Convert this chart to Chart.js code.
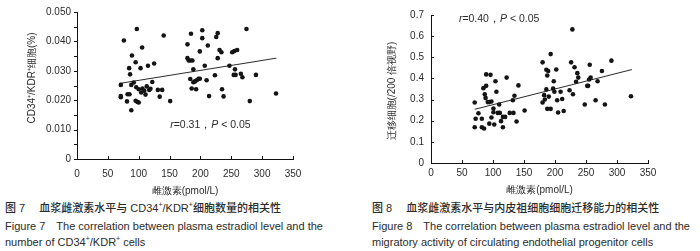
<!DOCTYPE html>
<html><head><meta charset="utf-8">
<script src="https://cdn.jsdelivr.net/npm/chart.js@4/dist/chart.umd.min.js"></script>
<style>
html,body{margin:0;padding:0;background:#fff}
body{width:700px;height:251px;overflow:hidden;position:relative;font-family:"Liberation Sans",Arial,sans-serif;color:#2b2b2b}
.c{position:absolute;top:0;width:350px;height:200px}
.cap{position:absolute;white-space:pre;font-size:11px;line-height:13px}
.zh{font-family:"Liberation Sans","Noto Sans CJK SC",sans-serif;font-size:11px;font-weight:500}
sup{font-size:7px;vertical-align:5px;line-height:0}
</style></head><body>
<div class="c" style="left:0"><canvas id="c1" width="350" height="200"></canvas></div>
<div class="c" style="left:350px"><canvas id="c2" width="350" height="200"></canvas></div>

<div class="cap zh" style="left:5px;top:202px">图 7　 血浆雌激素水平与 CD34<sup>+</sup>/KDR<sup>+</sup>细胞数量的相关性</div>
<div class="cap" style="left:5px;top:220px">Figure 7　The correlation between plasma estradiol level and the</div>
<div class="cap" style="left:5px;top:236px">number of CD34<sup>+</sup>/KDR<sup>+</sup> cells</div>

<div class="cap zh" style="left:372px;top:202px">图 8　 血浆雌激素水平与内皮祖细胞细胞迁移能力的相关性</div>
<div class="cap" style="left:372px;top:220px">Figure 8　The correlation between plasma estradiol level and the</div>
<div class="cap" style="left:372px;top:236px">migratory activity of circulating endothelial progenitor cells</div>

<script>
// ---------- data ----------
const xTickValues = [0, 50, 100, 150, 200, 250, 300, 350];
const fig7YTicks = [0, 0.005, 0.010, 0.015, 0.020, 0.025, 0.030, 0.035, 0.040, 0.045, 0.050];
const fig8YTicks = [0, 0.1, 0.2, 0.3, 0.4, 0.5, 0.6, 0.7];

const fig7Estradiol = [71,71,71,76,81,82,85,84.5,86,89,88,88,92,95,96,97,95,98,100,100,103,104,105.5,106,109,111,113,115,117,119,122,125,131,134,138,140.5,151,
  179,179,181,183.6,183.6,184.7,185.8,187,188.5,188.5,191,193,194,197,199,199,203,203,207,210,212,214,223.5,225.6,228,228,231,234,235,237.5,247,251.5,255,254,256,257,259.5,265.5,268,274.6,280,290,322.5];
const fig7Cells = [0.0252,0.0214,0.0210,0.0403,0.0196,0.0220,0.0220,0.0309,0.0288,0.0352,0.0166,0.0252,0.0260,0.0329,0.0244,0.0442,0.0198,0.0194,0.0192,0.0237,0.0309,0.0226,0.0379,0.0240,0.0232,0.0219,0.0247,0.0317,0.0235,0.0239,0.0262,0.0325,0.0235,0.0212,0.0235,0.0420,0.0197,
  0.0390,0.0343,0.0335,0.0335,0.0272,0.0426,0.0240,0.0335,0.0305,0.0261,0.0264,0.0237,0.0268,0.0273,0.0273,0.0366,0.0438,0.0411,0.0317,0.0268,0.0386,0.0214,0.0285,0.0415,0.0428,0.0343,0.0371,0.0363,0.0237,0.0213,0.0317,0.0363,0.0367,0.0286,0.0305,0.0286,0.0371,0.0290,0.0278,0.0442,0.0197,0.0286,0.0223];
const fig7TrendX = [69, 323];
const fig7TrendY = [0.0257, 0.0343];

const fig8Estradiol = [70.5,72,70.5,76.5,82,82,84.5,85.6,86.7,88,89,89,91.5,94,96,97.5,94,97.5,100.7,100.7,102,104,105.5,107.7,110,111,113,116,116,119.5,122,127,132,133,134.6,138,141,151,
  180,180,182.5,183.6,186,186,187.5,187.5,189,190,193,193,197,198,199,202,203.5,205,209,211.6,214,223.5,226,228,229,231.5,234,236,237.5,248,252,253.5,255,256,257.5,265.5,268.7,275.7,280.5,291,322.5];
const fig8Migrated = [0.286,0.209,0.169,0.235,0.209,0.169,0.354,0.163,0.325,0.308,0.419,0.365,0.288,0.288,0.417,0.291,0.186,0.215,0.240,0.258,0.182,0.387,0.337,0.237,0.277,0.237,0.198,0.169,0.218,0.218,0.404,0.237,0.297,0.237,0.318,0.196,0.367,0.248,
  0.476,0.286,0.321,0.300,0.441,0.348,0.414,0.256,0.435,0.314,0.515,0.256,0.352,0.387,0.337,0.442,0.297,0.239,0.337,0.303,0.246,0.344,0.476,0.632,0.325,0.453,0.384,0.425,0.404,0.277,0.365,0.365,0.395,0.465,0.404,0.297,0.387,0.435,0.277,0.484,0.316];
const fig8TrendX = [70.5, 324];
const fig8TrendY = [0.254, 0.442];

// ---------- helpers ----------
const TXT = '#2b2b2b';
const FONT = '"Liberation Sans", Arial, sans-serif';
const zip = (xs, ys) => xs.map((x, i) => ({x, y: ys[i]}));

const decor = {
  id: 'decor',
  afterDraw(chart, args, o) {
    const ctx = chart.ctx, xs = chart.scales.x, ys = chart.scales.y;
    ctx.save();
    ctx.strokeStyle = '#111'; ctx.lineWidth = 1;
    ctx.beginPath();
    o.xTicks.forEach(v => { const px = Math.round(xs.getPixelForValue(v)) + 0.5; ctx.moveTo(px, ys.bottom); ctx.lineTo(px, ys.bottom - 3); });
    o.yTicks.forEach(v => { const py = Math.round(ys.getPixelForValue(v)) + 0.5; const x0 = xs.left; ctx.moveTo(x0, py); ctx.lineTo(x0 + (o.yIn ? 3 : -3), py); });
    ctx.stroke();
    ctx.fillStyle = TXT;
    ctx.font = '10px ' + FONT;
    ctx.textAlign = 'center'; ctx.textBaseline = 'middle';
    ctx.translate(o.yTitleX, o.yTitleY);
    ctx.rotate(-Math.PI / 2);
    ctx.fillText(o.yTitle, 0, 0);
    ctx.restore();
    ctx.save();
    ctx.fillStyle = TXT; ctx.textBaseline = 'middle'; ctx.textAlign = 'left';
    let x = xs.getPixelForValue(o.noteAt[0]);
    const y = ys.getPixelForValue(o.noteAt[1]);
    o.note.forEach(([t, it]) => {
      ctx.font = (it ? 'italic ' : '') + '10.5px ' + FONT;
      ctx.fillText(t, x, y);
      x += ctx.measureText(t).width;
    });
    ctx.restore();
  }
};

function makeChart(id, xs, ys, tx, ty, yTicks, yMax, fmt, cfg) {
  return new Chart(document.getElementById(id), {
    data: {
      datasets: [
        { type: 'scatter', data: zip(xs, ys), backgroundColor: '#141414', borderWidth: 0, pointRadius: 2.3, pointHoverRadius: 2.3 },
        { type: 'line', data: zip(tx, ty), borderColor: '#2a2a2a', borderWidth: 1, pointRadius: 0, fill: false }
      ]
    },
    options: {
      responsive: false, animation: false, devicePixelRatio: 1,
      layout: { padding: cfg.pad },
      plugins: { legend: { display: false }, tooltip: { enabled: false }, decor: cfg.decor },
      scales: {
        x: {
          type: 'linear', min: 0, max: 350,
          afterBuildTicks: s => { s.ticks = xTickValues.map(v => ({value: v})); },
          afterFit: s => { s.height = cfg.xH; },
          grid: { display: false, drawTicks: false },
          border: { display: true, color: '#111', width: 1 },
          ticks: { padding: cfg.xPad, color: TXT, font: { family: FONT, size: 10 } },
          title: { display: true, text: '雌激素(pmol/L)', color: TXT, font: { family: FONT, size: 10 }, padding: { top: 0, bottom: cfg.xTitlePad } }
        },
        y: {
          type: 'linear', min: 0, max: yMax,
          afterBuildTicks: s => { s.ticks = yTicks.map(v => ({value: v})); },
          afterFit: s => { s.width = cfg.yW; },
          grid: { display: false, drawTicks: false },
          border: { display: true, color: '#111', width: 1 },
          ticks: { padding: cfg.yPad, color: TXT, font: { family: FONT, size: 10 }, callback: fmt }
        }
      }
    },
    plugins: [decor]
  });
}

makeChart('c1', fig7Estradiol, fig7Cells, fig7TrendX, fig7TrendY, fig7YTicks, 0.05,
  v => v === 0 ? '0' : v.toFixed(3),
  { pad: {left: 0, top: 12, right: 57, bottom: 0}, xH: 41, yW: 77, xPad: 9, yPad: 6, xTitlePad: 3,
    decor: { xTicks: xTickValues, yTicks: fig7YTicks, yIn: false, yTitle: 'CD34⁺/KDR⁺细胞(%)', yTitleX: 32, yTitleY: 78,
      note: [['r', true], ['=0.31，', false], ['P', true], [' < 0.05', false]], noteAt: [151, 0.0114] } });

makeChart('c2', fig8Estradiol, fig8Migrated, fig8TrendX, fig8TrendY, fig8YTicks, 0.7,
  v => v === 0 ? '0' : v.toFixed(1),
  { pad: {left: 0, top: 15, right: 52, bottom: 0}, xH: 37, yW: 81, xPad: 4, yPad: 7, xTitlePad: 4,
    decor: { xTicks: xTickValues, yTicks: fig8YTicks, yIn: true, yTitle: '迁移细胞(/200 倍视野)', yTitleX: 42, yTitleY: 91,
      note: [['r', true], ['=0.40，', false], ['P', true], [' < 0.05', false]], noteAt: [45, 0.68] } });
</script>
</body></html>
